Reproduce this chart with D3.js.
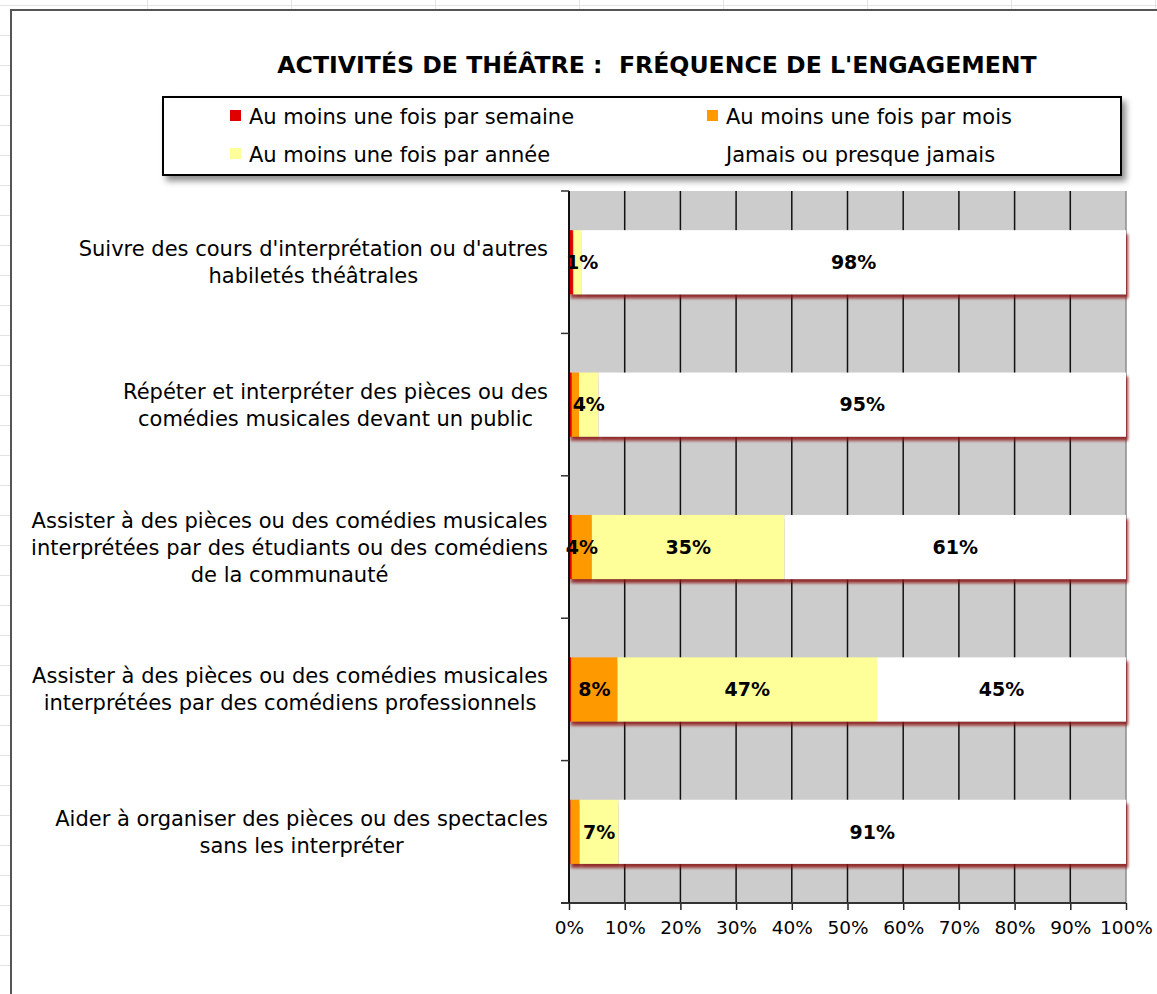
<!DOCTYPE html>
<html>
<head>
<meta charset="utf-8">
<script src="https://cdn.jsdelivr.net/npm/d3@7"></script>
<style>
  body { margin: 0; background: #fff; }
  svg { display: block; }
  .text { font-family: "DejaVu Sans", Verdana, sans-serif; fill: #000; }
</style>
</head>
<body>
<div id="chart"></div>
<script>
// Chart data
const categories = [
    ["Suivre des cours d'interprétation ou d'autres", "habiletés théâtrales"],
    ["Répéter et interpréter des pièces ou des", "comédies musicales devant un public"],
    ["Assister à des pièces ou des comédies musicales", "interprétées par des étudiants ou des comédiens", "de la communauté"],
    ["Assister à des pièces ou des comédies musicales", "interprétées par des comédiens professionnels"],
    ["Aider à organiser des pièces ou des spectacles", "sans les interpréter"]
];
const seriesNames = ["Au moins une fois par semaine", "Au moins une fois par mois", "Au moins une fois par année", "Jamais ou presque jamais"];
const weekly  = [0.7, 0.5, 0.5, 0.4, 0.3];
const monthly = [0.1, 1.3, 3.6, 8.3, 1.6];
const yearly  = [1.4, 3.5, 34.6, 46.6, 7.0];
const never   = [97.8, 94.7, 61.3, 44.7, 91.1];
const ticks = [0, 10, 20, 30, 40, 50, 60, 70, 80, 90, 100];
const title = "ACTIVITÉS DE THÉÂTRE :  FRÉQUENCE DE L'ENGAGEMENT";

const seriesValues = [weekly, monthly, yearly, never];
const colors = ["#e00000", "#ff9900", "#ffff99", "#ffffff"];
// smallest value that still gets a data label, per series
const labelMin = [Infinity, 3, 1, 0];

const width = 1157, height = 994;
const plot = { left: 569, right: 1126, top: 191, bottom: 903 };

const svg = d3.select("#chart").append("svg")
    .attr("width", width)
    .attr("height", height);

const defs = svg.append("defs");
const barShadow = defs.append("filter").attr("id", "barShadow")
    .attr("x", "-5%").attr("y", "-20%").attr("width", "110%").attr("height", "150%");
barShadow.append("feDropShadow")
    .attr("dx", 2).attr("dy", 4).attr("stdDeviation", 1.8)
    .attr("flood-color", "#8a0f0f").attr("flood-opacity", 0.85);
const boxShadow = defs.append("filter").attr("id", "boxShadow")
    .attr("x", "-5%").attr("y", "-20%").attr("width", "110%").attr("height", "150%");
boxShadow.append("feDropShadow")
    .attr("dx", 4).attr("dy", 5).attr("stdDeviation", 3)
    .attr("flood-color", "#000").attr("flood-opacity", 0.45);

// Spreadsheet cells behind the chart
const sheet = svg.append("g").attr("stroke", "#e3e3e3").attr("stroke-width", 1);
sheet.append("line").attr("x1", 0).attr("x2", width).attr("y1", 5.5).attr("y2", 5.5);
d3.range(147.5, width, 144).forEach(x => {
    sheet.append("line").attr("x1", x).attr("x2", x).attr("y1", 0).attr("y2", 10);
});
d3.range(35.5, height, 30).forEach(y => {
    sheet.append("line").attr("x1", 0).attr("x2", 11).attr("y1", y).attr("y2", y);
});

// Chart frame
svg.append("rect")
    .attr("x", 11).attr("y", 10)
    .attr("width", width + 20).attr("height", height + 20)
    .attr("fill", "#fff")
    .attr("stroke", "#555").attr("stroke-width", 2);

// Scales
const xScale = d3.scaleLinear().domain([0, 100]).range([plot.left, plot.right]);
const yScale = d3.scaleBand()
    .domain(d3.range(categories.length))
    .range([plot.top, plot.bottom])
    .paddingInner(0.55)
    .paddingOuter(0.275);

// Plot background and gridlines
svg.append("rect")
    .attr("x", plot.left).attr("y", plot.top)
    .attr("width", plot.right - plot.left).attr("height", plot.bottom - plot.top)
    .attr("fill", "#cccccc");

svg.append("g")
    .selectAll("line")
    .data(ticks.slice(1))
    .enter().append("line")
    .attr("x1", d => xScale(d)).attr("x2", d => xScale(d))
    .attr("y1", plot.top).attr("y2", plot.bottom)
    .attr("stroke", d => d === 100 ? "#8c8c8c" : "#111")
    .attr("stroke-width", 1.5);

// Stack values per category
const stacked = categories.map((c, i) => {
    let x0 = 0;
    return seriesValues.map((vals, s) => {
        const seg = { cat: i, series: s, value: vals[i], x0: x0, x1: x0 + vals[i] };
        x0 += vals[i];
        return seg;
    });
});

// Bars
const rows = svg.append("g").selectAll(".row")
    .data(stacked)
    .enter().append("g")
    .attr("class", "row")
    .attr("filter", "url(#barShadow)");

rows.selectAll("rect")
    .data(d => d)
    .enter().append("rect")
    .attr("x", d => xScale(d.x0))
    .attr("y", d => yScale(d.cat))
    .attr("width", d => xScale(d.x1) - xScale(d.x0))
    .attr("height", yScale.bandwidth())
    .attr("fill", d => colors[d.series]);

// Data labels
svg.append("g").selectAll("text")
    .data(stacked.flat().filter(d => d.value >= labelMin[d.series]))
    .enter().append("text")
    .attr("class", "text")
    .attr("x", d => d.series === 2 && d.value < 2 ? xScale(d.x1) + 1 : (xScale(d.x0) + xScale(d.x1)) / 2)
    .attr("y", d => yScale(d.cat) + yScale.bandwidth() / 2)
    .attr("dy", "0.36em")
    .attr("text-anchor", "middle")
    .style("font-size", "19px")
    .style("font-weight", "bold")
    .text(d => Math.round(d.value) + "%");

// X axis
const xAxis = d3.axisBottom(xScale)
    .tickValues(ticks)
    .tickSize(7)
    .tickSizeOuter(0)
    .tickFormat(d => d + "%");
const xAxisG = svg.append("g")
    .attr("transform", `translate(0,${plot.bottom})`)
    .call(xAxis);
xAxisG.select(".domain").remove();
xAxisG.selectAll(".tick line").attr("stroke", "#222").attr("stroke-width", 1.5);
xAxisG.selectAll(".tick text")
    .attr("class", "text")
    .attr("y", 18)
    .attr("dy", "0.71em")
    .style("font-size", "18.5px")
    .attr("fill", "#000");
svg.append("line")
    .attr("x1", plot.left - 8).attr("x2", plot.right)
    .attr("y1", plot.bottom).attr("y2", plot.bottom)
    .attr("stroke", "#333").attr("stroke-width", 2);

// Category axis line and ticks at band edges
svg.append("line")
    .attr("x1", plot.left).attr("x2", plot.left)
    .attr("y1", plot.top).attr("y2", plot.bottom)
    .attr("stroke", "#111").attr("stroke-width", 2);
const edges = d3.range(categories.length + 1).map(i => plot.top + i * yScale.step());
svg.append("g").selectAll("line")
    .data(edges)
    .enter().append("line")
    .attr("x1", plot.left - 8).attr("x2", plot.left)
    .attr("y1", d => d).attr("y2", d => d)
    .attr("stroke", "#333").attr("stroke-width", 1.5);

// Category labels: block right-aligned, lines centred in block
const lineHeight = 27;
const labelRight = 548;
categories.forEach((lines, i) => {
    const cy = yScale(i) + yScale.bandwidth() / 2;
    const g = svg.append("g");
    const texts = lines.map((line, k) => g.append("text")
        .attr("class", "text")
        .attr("y", cy + (k - (lines.length - 1) / 2) * lineHeight)
        .attr("dy", "0.36em")
        .attr("text-anchor", "middle")
        .style("font-size", "21px")
        .text(line));
    const maxW = d3.max(texts, t => t.node().getComputedTextLength());
    texts.forEach(t => t.attr("x", labelRight - maxW / 2));
});

// Title
svg.append("text")
    .attr("class", "text")
    .attr("x", 657)
    .attr("y", 73)
    .attr("text-anchor", "middle")
    .style("font-size", "23.6px")
    .style("font-weight", "bold")
    .style("white-space", "pre")
    .text(title);

// Legend
const legend = svg.append("g");
legend.append("rect")
    .attr("x", 163).attr("y", 97)
    .attr("width", 958).attr("height", 78)
    .attr("fill", "#fff")
    .attr("stroke", "#000").attr("stroke-width", 2)
    .attr("filter", "url(#boxShadow)");

const legendPos = [[230, 116], [707, 116], [230, 154], [707, 154]];
const legendItems = legend.selectAll(".legend-item")
    .data(seriesNames)
    .enter().append("g")
    .attr("class", "legend-item")
    .attr("transform", (d, i) => `translate(${legendPos[i][0]}, ${legendPos[i][1]})`);

legendItems.append("rect")
    .attr("x", 0).attr("y", -6)
    .attr("width", 11).attr("height", 11)
    .attr("fill", (d, i) => colors[i]);

legendItems.append("text")
    .attr("class", "text")
    .attr("x", 19)
    .attr("dy", "0.36em")
    .style("font-size", "21px")
    .text(d => d);
</script>
</body>
</html>
